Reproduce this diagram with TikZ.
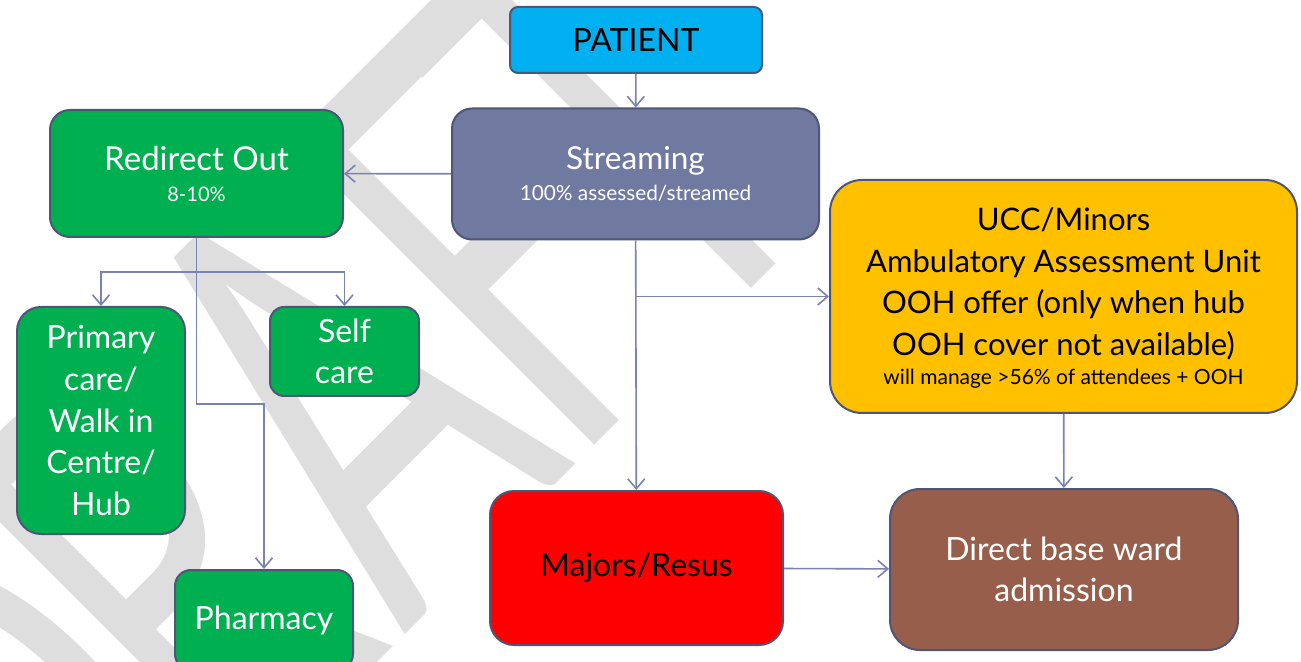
\documentclass[tikz,border=0pt]{standalone}
\usepackage{fontspec}
\setmainfont{Lato}
\usetikzlibrary{shapes.geometric, arrows.meta}
\definecolor{patientblue}{RGB}{0,176,240}
\definecolor{streamgrey}{RGB}{112,121,160}
\definecolor{redirectgreen}{RGB}{0,176,80}
\definecolor{uccamber}{RGB}{255,192,0}
\definecolor{majorsred}{RGB}{255,0,0}
\definecolor{wardbrown}{RGB}{151,95,75}
\definecolor{boxedge}{RGB}{78,86,120}
\definecolor{linkblue}{RGB}{122,130,176}
\definecolor{draftgrey}{RGB}{222,222,222}
\tikzstyle{unit} = [rectangle, draw=boxedge, line width=1pt, align=center, inner sep=2pt]
\tikzstyle{patientbox} = [unit, rounded corners=4pt, fill=patientblue, minimum width=126pt, minimum height=33pt, font=\fontsize{16}{18}\selectfont]
\tikzstyle{streambox} = [unit, rounded corners=10pt, fill=streamgrey, text=white, minimum width=183.5pt, minimum height=65.5pt, font=\fontsize{15.8}{15.5}\selectfont]
\tikzstyle{greenbox} = [unit, fill=redirectgreen, text=white, font=\fontsize{16}{20.8}\selectfont]
\tikzstyle{uccbox} = [unit, rounded corners=16pt, fill=uccamber, minimum width=233.5pt, minimum height=116.5pt, text depth=0pt, font=\fontsize{15.5}{20.75}\selectfont]
\tikzstyle{majorsbox} = [unit, rounded corners=12pt, fill=majorsred, minimum width=146.5pt, minimum height=77pt, font=\fontsize{16}{20.8}\selectfont]
\tikzstyle{wardbox} = [unit, rounded corners=15pt, fill=wardbrown, text=white, minimum width=174pt, minimum height=80.5pt, font=\fontsize{16}{20.8}\selectfont]
\tikzstyle{watermark} = [anchor=base, rotate=45, xscale=0.6, inner sep=0pt, text=draftgrey, font=\fontsize{300}{300}\selectfont]
\tikzstyle{arrow} = [draw=linkblue, line width=0.8pt, ->, >={Straight Barb[length=5pt, width=8.5pt]}]

\begin{document}
\begin{tikzpicture}[x=0.5pt, y=-0.5pt]
\useasboundingbox (0,0) rectangle (1301,662);
\clip (0,0) rectangle (1301,662);
\fill [white] (0,0) rectangle (1301,662);

% watermark behind everything, one letter at a time along the diagonal
\foreach \letter/\s in {D/-520, R/-290, A/-42, F/175, T/345}
  \node (draft\letter) [watermark] at ({(1040+1.4142*\s)/2}, {(1040-1.4142*\s)/2}) {\letter};

% top of the flow
\node (patient) [patientbox] at (636,40) {PATIENT};
\node (stream) [streambox] at (635.5,174) {Streaming\\{\fontsize{10.4}{12}\selectfont 100\% assessed/streamed}};

% redirected patients
\node (redirect) [greenbox, rounded corners=10pt, minimum width=146.5pt, minimum height=63.5pt, font=\fontsize{16.5}{15.5}\selectfont] at (196.5,173.5) {Redirect Out\\{\fontsize{10}{12}\selectfont 8-10\%}};
\node (primary) [greenbox, rounded corners=12pt, minimum width=84pt, minimum height=113.5pt] at (101,420.5) {Primary\\care/\\Walk in\\Centre/\\Hub};
\node (selfcare) [greenbox, rounded corners=7pt, minimum width=74.5pt, minimum height=44.5pt] at (344.5,351.5) {Self\\care};
\node (pharmacy) [greenbox, rounded corners=8pt, minimum width=89pt, minimum height=50pt] at (264,620) {Pharmacy};

% streamed patients
\node (ucc) [uccbox] at (1063.5,296.5) {UCC/Minors\\Ambulatory Assessment Unit\\OOH offer (only when hub\\OOH cover not available)\\[-6pt]{\fontsize{10.5}{12}\selectfont will manage >56\% of attendees + OOH}};
\node (majors) [majorsbox] at (636.5,568) {Majors/Resus};
\node (ward) [wardbox] at (1064,569.5) {Direct base ward\\admission};

% connectors
\coordinate (split) at (stream.south |- ucc.west);
\coordinate (bar) at (redirect.south |- 0,272);
\coordinate (bend) at (pharmacy.north |- 0,404);
\draw [arrow] (patient) -- (stream);
\draw [arrow] (stream) -- (redirect);
\draw [arrow] (stream) -- (majors);
\draw [arrow] (split) -- (ucc);
\draw [arrow] (ucc) -- (ward);
\draw [arrow] (majors) -- (ward);
\draw [arrow] (redirect.south) |- (bend) -- (pharmacy.north);
\draw [arrow] (bar) -| (primary.north);
\draw [arrow] (bar) -| (selfcare.north);
\end{tikzpicture}
\end{document}
